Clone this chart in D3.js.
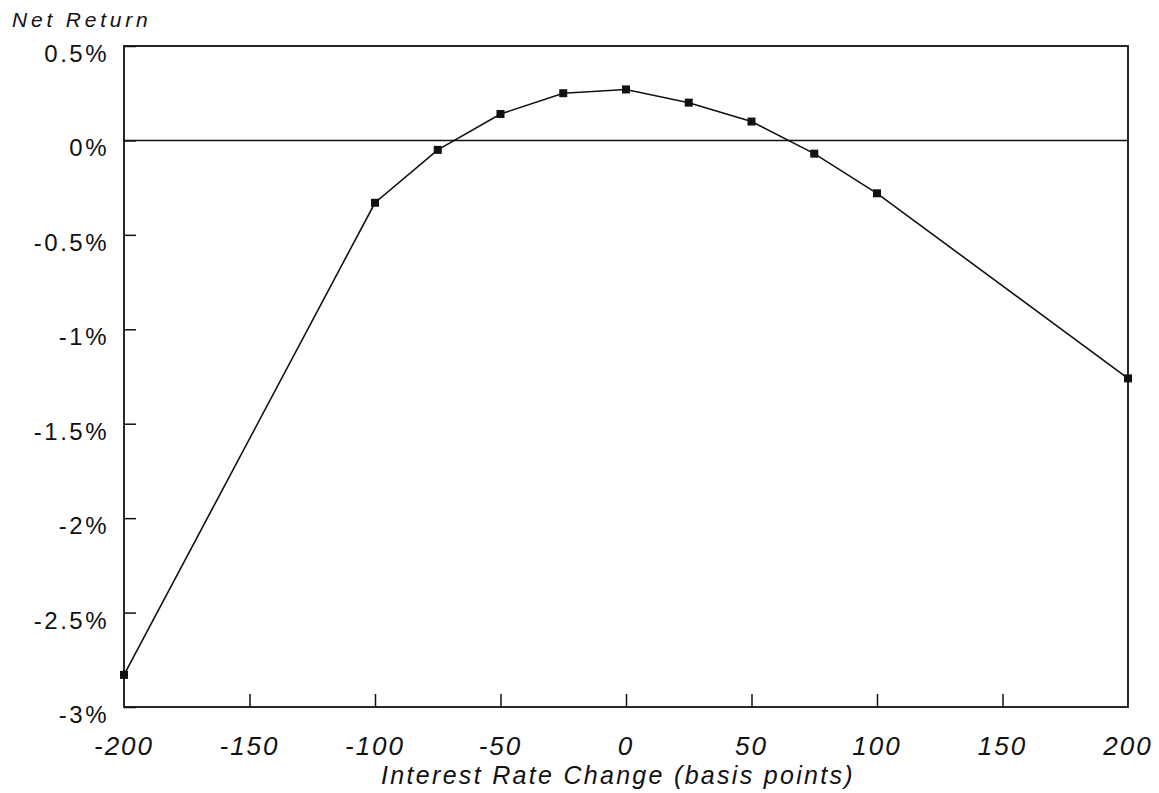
<!DOCTYPE html>
<html>
<head>
<meta charset="utf-8">
<script src="https://cdn.jsdelivr.net/npm/d3@7"></script>
<style>
  body { margin: 0; background: #fff; }
  text { font-family: "Liberation Sans", Arial, sans-serif; fill: #111; }
</style>
</head>
<body>
<svg id="chart" width="1159" height="793"></svg>
<script>
// basis point shifts and net return (%)
const rateChange = [-200, -100, -75, -50, -25, 0, 25, 50, 75, 100, 200]
const netReturn = [-2.83, -0.33, -0.05, 0.14, 0.25, 0.27, 0.20, 0.10, -0.07, -0.28, -1.26]

const xTicks = [-200, -150, -100, -50, 0, 50, 100, 150, 200]
const yTicks = [0.5, 0, -0.5, -1, -1.5, -2, -2.5, -3]
const yTickLabels = ['0.5%', '0%', '-0.5%', '-1%', '-1.5%', '-2%', '-2.5%', '-3%']

const box = { left: 124, right: 1128, top: 46, bottom: 707 }

const svg = d3.select('#chart')

const x = d3.scaleLinear().domain([-200, 200]).range([box.left, box.right])
const y = d3.scaleLinear().domain([-3, 0.5]).range([box.bottom, box.top])

const ink = '#111'

// frame
svg.append('rect')
    .attr('x', box.left).attr('y', box.top)
    .attr('width', box.right - box.left)
    .attr('height', box.bottom - box.top)
    .attr('fill', 'none')
    .attr('stroke', ink)
    .attr('stroke-width', 1.8)

// zero line
svg.append('line')
    .attr('x1', box.left).attr('x2', box.right)
    .attr('y1', y(0)).attr('y2', y(0))
    .attr('stroke', ink).attr('stroke-width', 1.5)

// y axis: inward ticks, labels hang a bit below the tick
const yAxis = d3.axisRight(y)
    .tickValues(yTicks)
    .tickSize(12)
    .tickFormat('')

svg.append('g')
    .attr('transform', `translate(${box.left},0)`)
    .call(yAxis)
    .call(g => g.select('.domain').remove())
    .selectAll('line').attr('stroke', ink).attr('stroke-width', 1.5)

svg.append('g').selectAll('text')
    .data(yTicks)
    .enter().append('text')
    .attr('x', 109)
    .attr('y', (d) => y(d) + 16)
    .attr('text-anchor', 'end')
    .attr('font-size', 24)
    .attr('letter-spacing', 2.5)
    .text((d, i) => yTickLabels[i])

// x axis: inward ticks on the bottom edge
const xAxis = d3.axisTop(x)
    .tickValues(xTicks.slice(1, -1))
    .tickSize(13)
    .tickFormat('')

svg.append('g')
    .attr('transform', `translate(0,${box.bottom})`)
    .call(xAxis)
    .call(g => g.select('.domain').remove())
    .selectAll('line').attr('stroke', ink).attr('stroke-width', 1.5)

svg.append('g').selectAll('text')
    .data(xTicks)
    .enter().append('text')
    .attr('x', (d) => x(d))
    .attr('y', 755)
    .attr('text-anchor', 'middle')
    .attr('font-size', 26)
    .attr('font-style', 'italic')
    .attr('letter-spacing', 2)
    .text((d) => d)

// titles
svg.append('text')
    .attr('x', 618)
    .attr('y', 784)
    .attr('text-anchor', 'middle')
    .attr('font-size', 25)
    .attr('font-style', 'italic')
    .attr('letter-spacing', 2.3)
    .text('Interest Rate Change (basis points)')

svg.append('text')
    .attr('x', 12)
    .attr('y', 27)
    .attr('font-size', 21)
    .attr('font-style', 'italic')
    .attr('letter-spacing', 3.8)
    .text('Net Return')

// series
const points = rateChange.map((d, i) => ({ bp: d, ret: netReturn[i] }))

const line = d3.line()
    .x((d) => x(d.bp))
    .y((d) => y(d.ret))

svg.append('path')
    .datum(points)
    .attr('d', line)
    .attr('fill', 'none')
    .attr('stroke', ink)
    .attr('stroke-width', 1.6)

svg.append('g').selectAll('rect')
    .data(points)
    .enter().append('rect')
    .attr('x', (d) => x(d.bp) - 4)
    .attr('y', (d) => y(d.ret) - 4)
    .attr('width', 8)
    .attr('height', 8)
    .attr('fill', ink)
</script>
</body>
</html>
